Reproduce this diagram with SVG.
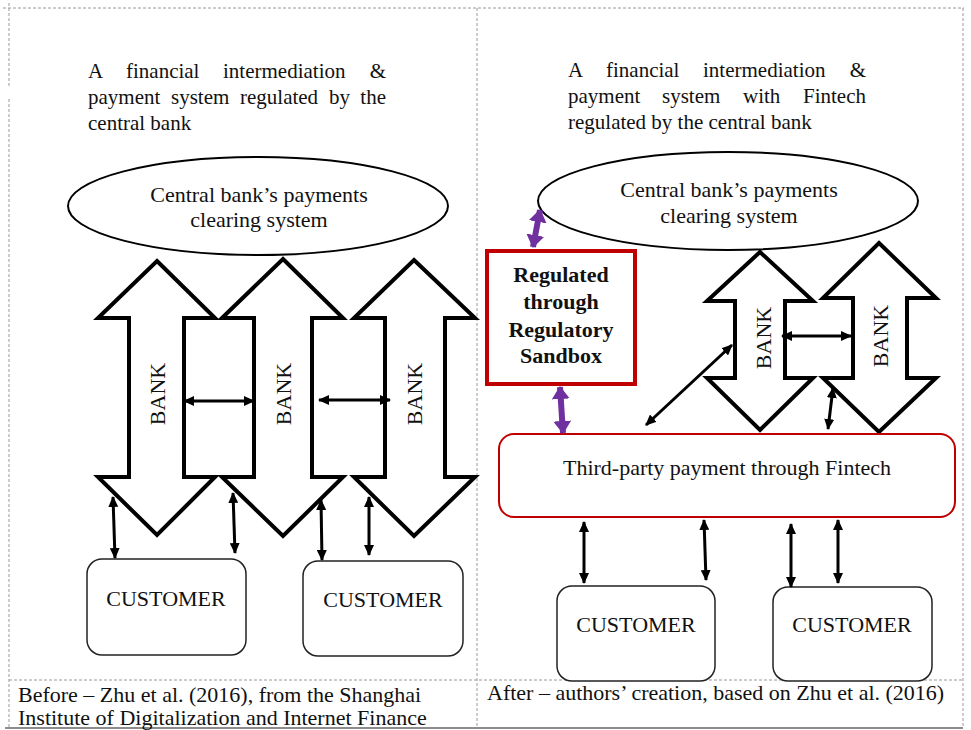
<svg xmlns="http://www.w3.org/2000/svg" width="971" height="730" viewBox="0 0 971 730">
<style>
  text { font-family: "Liberation Serif", "Times New Roman", serif; font-size: 22px; fill: #111; }
  .t { font-size: 21px; }
  .e { text-anchor: end; }
  .c { text-anchor: middle; }
  .b { font-weight: bold; }
  .grid { stroke: #9a9a9a; stroke-width: 1; stroke-dasharray: 3 2; fill: none; }
  .bank { fill: #fff; stroke: #000; stroke-width: 4; stroke-linejoin: miter; }
  .ell { fill: #fff; stroke: #000; stroke-width: 2; }
  .cust { fill: #fff; stroke: #222; stroke-width: 1.5; }
  .conn { stroke: #000; stroke-width: 3; fill: none; marker-start: url(#ah); marker-end: url(#ah); }
  .pconn { stroke: #7030A0; stroke-width: 6; fill: none; marker-start: url(#ph); marker-end: url(#ph); }
</style>
<defs>
  <marker id="ah" markerUnits="userSpaceOnUse" markerWidth="12" markerHeight="10" refX="10" refY="5" orient="auto-start-reverse">
    <path d="M0,0 L11,5 L0,10 Z" fill="#000"/>
  </marker>
  <marker id="ph" markerUnits="userSpaceOnUse" markerWidth="14" markerHeight="18" refX="12" refY="9" orient="auto-start-reverse">
    <path d="M0,0 L13,9 L0,18 Z" fill="#7030A0"/>
  </marker>
</defs>
<rect x="0" y="0" width="971" height="730" fill="#fff"/>

<g id="table">
  <line class="grid" x1="3" y1="8" x2="964" y2="8"/>
  <line class="grid" x1="9" y1="3" x2="9" y2="86"/>
  <line class="grid" x1="9" y1="99" x2="9" y2="728"/>
  <line class="grid" x1="477" y1="8" x2="477" y2="728"/>
  <line class="grid" x1="963" y1="8" x2="963" y2="728"/>
  <line class="grid" x1="9" y1="680" x2="963" y2="680"/>
  <line x1="5" y1="728" x2="963" y2="728" stroke="#666" stroke-width="1.5"/>
</g>

<g id="title-left">
  <text class="t" y="78"><tspan x="88">A</tspan><tspan x="126">financial</tspan><tspan x="223">intermediation</tspan></text>
  <text class="t e" x="386" y="78">&amp;</text>
  <text class="t" y="104"><tspan x="88">payment</tspan><tspan x="171">system</tspan><tspan x="240">regulated</tspan><tspan x="329">by</tspan></text>
  <text class="t e" x="386" y="104">the</text>
  <text class="t" x="88" y="130">central bank</text>
</g>
<g id="title-right">
  <text class="t" y="77"><tspan x="568">A</tspan><tspan x="606">financial</tspan><tspan x="703">intermediation</tspan></text>
  <text class="t e" x="866" y="77">&amp;</text>
  <text class="t" y="103"><tspan x="568">payment</tspan><tspan x="662">system</tspan><tspan x="743">with</tspan></text>
  <text class="t e" x="866" y="103">Fintech</text>
  <text class="t" x="568" y="129">regulated by the central bank</text>
</g>

<g id="central-left">
  <ellipse class="ell" cx="258" cy="206" rx="190" ry="49"/>
  <text class="c" x="259" y="202">Central bank’s payments</text>
  <text class="c" x="259" y="227">clearing system</text>
</g>
<g id="central-right">
  <ellipse class="ell" cx="728" cy="201" rx="190" ry="49"/>
  <text class="c" x="729" y="197">Central bank’s payments</text>
  <text class="c" x="729" y="223">clearing system</text>
</g>

<g id="bank-l1">
  <polygon class="bank" points="157,261 215,318 184,318 184,477 215,477 157,535 98,477 129,477 129,318 98,318"/>
  <text class="c" transform="translate(165,394) rotate(-90)">BANK</text>
</g>
<g id="bank-l2">
  <polygon class="bank" points="283,259 343,318 312,318 312,477 343,477 283,536 222,477 254,477 254,318 222,318"/>
  <text class="c" transform="translate(291,394) rotate(-90)">BANK</text>
</g>
<g id="bank-l3">
  <polygon class="bank" points="414,260 475,318 445,318 445,477 475,477 414,536 354,477 385,477 385,318 354,318"/>
  <text class="c" transform="translate(422,394) rotate(-90)">BANK</text>
</g>

<g id="customer-l1">
  <rect class="cust" x="87" y="559" width="159" height="96" rx="15"/>
  <text class="c" x="166" y="606">CUSTOMER</text>
</g>
<g id="customer-l2">
  <rect class="cust" x="303" y="561" width="160" height="95" rx="15"/>
  <text class="c" x="383" y="607">CUSTOMER</text>
</g>

<g id="sandbox">
  <rect x="487" y="251" width="148" height="133" fill="#fff" stroke="#C00000" stroke-width="4"/>
  <text class="c b" x="561" y="282">Regulated</text>
  <text class="c b" x="561" y="309">through</text>
  <text class="c b" x="561" y="337">Regulatory</text>
  <text class="c b" x="561" y="363">Sandbox</text>
</g>

<g id="bank-r1">
  <polygon class="bank" points="760,252 813,301 785,301 785,378 813,378 760,430 707,378 735,378 735,301 707,301"/>
  <text class="c" transform="translate(771,338) rotate(-90)">BANK</text>
</g>
<g id="bank-r2">
  <polygon class="bank" points="879,243 936,298 907,298 907,378 936,378 879,432 823,378 853,378 853,298 823,298"/>
  <text class="c" transform="translate(888,336) rotate(-90)">BANK</text>
</g>

<g id="thirdparty">
  <rect x="499" y="434" width="456" height="83" rx="15" fill="#fff" stroke="#C00000" stroke-width="2"/>
  <text class="c" x="727" y="475">Third-party payment through Fintech</text>
</g>

<g id="customer-r1">
  <rect class="cust" x="557" y="586" width="158" height="95" rx="15"/>
  <text class="c" x="636" y="632">CUSTOMER</text>
</g>
<g id="customer-r2">
  <rect class="cust" x="773" y="587" width="159" height="94" rx="15"/>
  <text class="c" x="852" y="632">CUSTOMER</text>
</g>

<g id="connectors">
  <line class="conn" x1="184" y1="401" x2="254" y2="401"/>
  <line class="conn" x1="319" y1="400" x2="390" y2="400"/>
  <line class="conn" x1="113" y1="497" x2="115" y2="558"/>
  <line class="conn" x1="233" y1="493" x2="235" y2="553"/>
  <line class="conn" x1="321" y1="500" x2="322" y2="560"/>
  <line class="conn" x1="369" y1="497" x2="369" y2="555"/>
  <line class="conn" x1="782" y1="336" x2="851" y2="336"/>
  <line class="conn" x1="646" y1="425" x2="732" y2="345"/>
  <line class="conn" x1="828" y1="429" x2="833" y2="388"/>
  <line class="conn" x1="584" y1="522" x2="584" y2="583"/>
  <line class="conn" x1="704" y1="520" x2="706" y2="580"/>
  <line class="conn" x1="791" y1="524" x2="791" y2="587"/>
  <line class="conn" x1="838" y1="520" x2="838" y2="583"/>
  <line class="pconn" x1="540" y1="210" x2="533" y2="247"/>
  <line class="pconn" x1="560" y1="387" x2="563" y2="433"/>
</g>

<g id="footer">
  <text x="18" y="702">Before – Zhu et al. (2016), from the Shanghai</text>
  <text x="18" y="725">Institute of Digitalization and Internet Finance</text>
  <text x="487" y="700">After – authors’ creation, based on Zhu et al. (2016)</text>
</g>
</svg>
